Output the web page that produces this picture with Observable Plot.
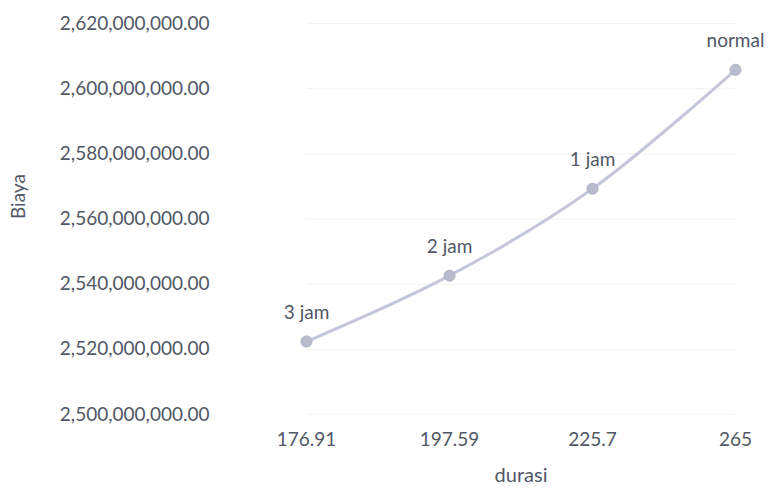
<!DOCTYPE html>
<html>
<head>
<meta charset="utf-8">
<script src="https://cdn.jsdelivr.net/npm/d3@7"></script>
<script src="https://cdn.jsdelivr.net/npm/@observablehq/plot@0.6"></script>
<style>
  html, body { margin: 0; padding: 0; background: #fff; }
</style>
</head>
<body>
<div id="chart"></div>
<script>
const durasi = ["176.91", "197.59", "225.7", "265"];
const biaya = [2522400000, 2542600000, 2569300000, 2605800000];
const labels = ["3 jam", "2 jam", "1 jam", "normal"];
const yTicks = [2500000000, 2520000000, 2540000000, 2560000000, 2580000000, 2600000000, 2620000000];

const data = durasi.map((d, i) => ({durasi: d, biaya: biaya[i], label: labels[i]}));
const fmt = d3.format(",.2f");
const textColor = "#515766";

const chart = Plot.plot({
  width: 772,
  height: 492,
  marginLeft: 306,
  marginRight: 37,
  marginTop: 23,
  marginBottom: 78,
  style: {fontFamily: "Lato, sans-serif", fontSize: "19px", color: textColor, background: "#fff"},
  x: {type: "point", domain: durasi, padding: 0, label: null},
  y: {domain: [2500000000, 2620000000], label: null},
  marks: [
    Plot.gridY(yTicks, {stroke: "#f2f2f2", strokeOpacity: 1}),
    Plot.axisY(yTicks, {tickSize: 0, tickPadding: 97, tickFormat: fmt, fill: textColor, fontSize: 19}),
    Plot.axisX({tickSize: 0, tickPadding: 18, fill: textColor, fontSize: 19, label: null}),
    Plot.line(data, {x: "durasi", y: "biaya", stroke: "#c4c7dc", strokeWidth: 3, curve: "catmull-rom"}),
    Plot.dot(data, {x: "durasi", y: "biaya", r: 5.5, fill: "#b9bccd", stroke: "#adb0c3", strokeWidth: 1}),
    Plot.text(data, {x: "durasi", y: "biaya", text: "label", dy: -29, fill: textColor, fontSize: 19}),
    Plot.text(["durasi"], {frameAnchor: "bottom", dy: 67, fill: textColor, fontSize: 20}),
    Plot.text(["Biaya"], {frameAnchor: "left", dx: -288, rotate: -90, fill: textColor, fontSize: 19})
  ]
});
document.getElementById("chart").appendChild(chart);
</script>
</body>
</html>
